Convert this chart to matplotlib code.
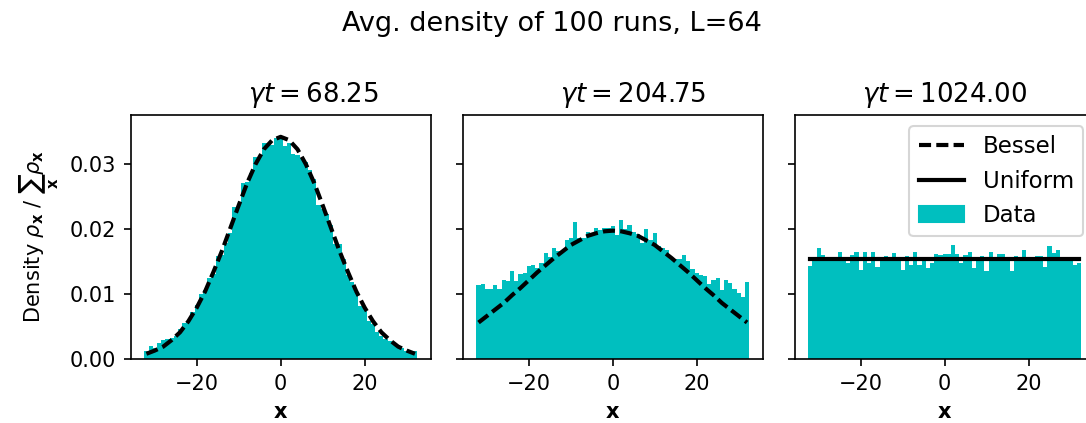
import numpy as np
import matplotlib
matplotlib.use("Agg")
import matplotlib.pyplot as plt
from matplotlib.lines import Line2D

# ---- data ----
sites = np.arange(-32, 33)            # lattice sites x
bessel_x = np.arange(-32, 33, 2)      # points where the Bessel curve was read

titles = [r"$\gamma t = 68.25$", r"$\gamma t = 204.75$", r"$\gamma t = 1024.00$"]

data_t1 = [0.0012, 0.0020, 0.0017, 0.0025, 0.0029, 0.0030, 0.0033, 0.0035, 0.0046, 0.0055,
           0.0058, 0.0072, 0.0083, 0.0100, 0.0106, 0.0125, 0.0130, 0.0158, 0.0160, 0.0178,
           0.0193, 0.0233, 0.0236, 0.0270, 0.0272, 0.0285, 0.0310, 0.0311, 0.0332, 0.0332,
           0.0328, 0.0340, 0.0341,
           0.0327, 0.0331, 0.0315, 0.0313, 0.0308, 0.0302, 0.0290, 0.0277, 0.0236, 0.0230,
           0.0223, 0.0206, 0.0177, 0.0177, 0.0154, 0.0129, 0.0118, 0.0103, 0.0082, 0.0077,
           0.0059, 0.0053, 0.0041, 0.0036, 0.0031, 0.0028, 0.0023, 0.0021, 0.0017, 0.0013,
           0.0012, 0.0012]

data_t2 = [0.0113, 0.0115, 0.0107, 0.0107, 0.0113, 0.0107, 0.0122, 0.0119, 0.0135, 0.0119,
           0.0130, 0.0132, 0.0142, 0.0145, 0.0139, 0.0147, 0.0162, 0.0157, 0.0170, 0.0166,
           0.0166, 0.0182, 0.0186, 0.0210, 0.0186, 0.0186, 0.0195, 0.0194, 0.0201, 0.0198,
           0.0201, 0.0201, 0.0204,
           0.0190, 0.0213, 0.0199, 0.0205, 0.0195, 0.0192, 0.0178, 0.0199, 0.0182, 0.0193,
           0.0173, 0.0171, 0.0168, 0.0155, 0.0154, 0.0153, 0.0159, 0.0150, 0.0138, 0.0132,
           0.0129, 0.0127, 0.0115, 0.0122, 0.0124, 0.0106, 0.0122, 0.0116, 0.0107, 0.0101,
           0.0095, 0.0118]

data_t3 = [0.0142, 0.0150, 0.0170, 0.0159, 0.0151, 0.0150, 0.0151, 0.0164, 0.0150, 0.0147,
           0.0159, 0.0165, 0.0137, 0.0165, 0.0147, 0.0165, 0.0141, 0.0152, 0.0158, 0.0151,
           0.0162, 0.0150, 0.0136, 0.0158, 0.0144, 0.0164, 0.0144, 0.0150, 0.0139, 0.0147,
           0.0161, 0.0160, 0.0161,
           0.0161, 0.0175, 0.0161, 0.0147, 0.0159, 0.0164, 0.0139, 0.0151, 0.0158, 0.0135,
           0.0165, 0.0152, 0.0161, 0.0161, 0.0152, 0.0135, 0.0158, 0.0152, 0.0168, 0.0152,
           0.0150, 0.0158, 0.0158, 0.0141, 0.0173, 0.0162, 0.0168, 0.0152, 0.0151, 0.0151,
           0.0144, 0.0147]

bessel_t1 = [0.0008, 0.0013, 0.0019, 0.0029, 0.0041, 0.0058, 0.0079, 0.0104, 0.0134, 0.0166,
             0.0201, 0.0236, 0.0270, 0.0299, 0.0322, 0.0336, 0.0341, 0.0336, 0.0322, 0.0299,
             0.0270, 0.0236, 0.0201, 0.0166, 0.0134, 0.0104, 0.0079, 0.0058, 0.0041, 0.0029,
             0.0019, 0.0013, 0.0008]

bessel_t2 = [0.0056, 0.0066, 0.0076, 0.0086, 0.0098, 0.0109, 0.0121, 0.0133, 0.0144, 0.0155,
             0.0165, 0.0175, 0.0182, 0.0189, 0.0193, 0.0196, 0.0197, 0.0196, 0.0193, 0.0189,
             0.0182, 0.0175, 0.0165, 0.0155, 0.0144, 0.0133, 0.0121, 0.0109, 0.0098, 0.0086,
             0.0076, 0.0066, 0.0056]

uniform_level = 0.01538
uniform_x = [-32, 32]

# ---- figure ----
W, H = 1086, 423
fig = plt.figure(figsize=(W / 150, H / 150), dpi=150)

bar_color = "c"
lefts_px = [130.7, 462.8, 794.6]
ax_w_px = 300.0
top_px, bot_px = 114.7, 359.0
title_x = [0.607, 0.568, 0.5]

axes = []
for i, lp in enumerate(lefts_px):
    rect = [lp / W, 1 - bot_px / H, ax_w_px / W, (bot_px - top_px) / H]
    if i == 0:
        ax = fig.add_axes(rect)
    else:
        ax = fig.add_axes(rect, sharey=axes[0])
        ax.tick_params(labelleft=False)
    axes.append(ax)

datasets = [data_t1, data_t2, data_t3]
for ax, d, t, tx in zip(axes, datasets, titles, title_x):
    ax.bar(sites, d, width=1.0, color=bar_color, label="Data")
    ax.set_title(t, fontsize=12.5, x=tx)
    ax.set_xlabel(r"$\mathbf{x}$", fontsize=10)
    ax.set_xticks([-20, 0, 20])

dash = (2.9, 1.25)
axes[0].plot(bessel_x, bessel_t1, color="k", ls="--", dashes=dash, lw=2)
axes[1].plot(bessel_x, bessel_t2, color="k", ls="--", dashes=dash, lw=2)
axes[2].plot(uniform_x, [uniform_level, uniform_level], "k-", lw=2)

axes[0].set_ylim(0, 0.0375)
axes[0].set_yticks([0.0, 0.01, 0.02, 0.03])
axes[0].set_ylabel(r"Density $\rho_\mathbf{x}$ / $\sum_\mathbf{x}\rho_\mathbf{x}$", fontsize=10)

handles = [Line2D([], [], color="k", ls="--", dashes=dash, lw=2),
           Line2D([], [], color="k", ls="-", lw=2),
           plt.Rectangle((0, 0), 1, 1, color=bar_color)]
axes[2].legend(handles, ["Bessel", "Uniform", "Data"], loc="upper right", fontsize=11)

fig.suptitle("Avg. density of 100 runs, L=64", fontsize=13, x=0.508, y=0.975, va="top")

fig.savefig("out.png", dpi=150)
